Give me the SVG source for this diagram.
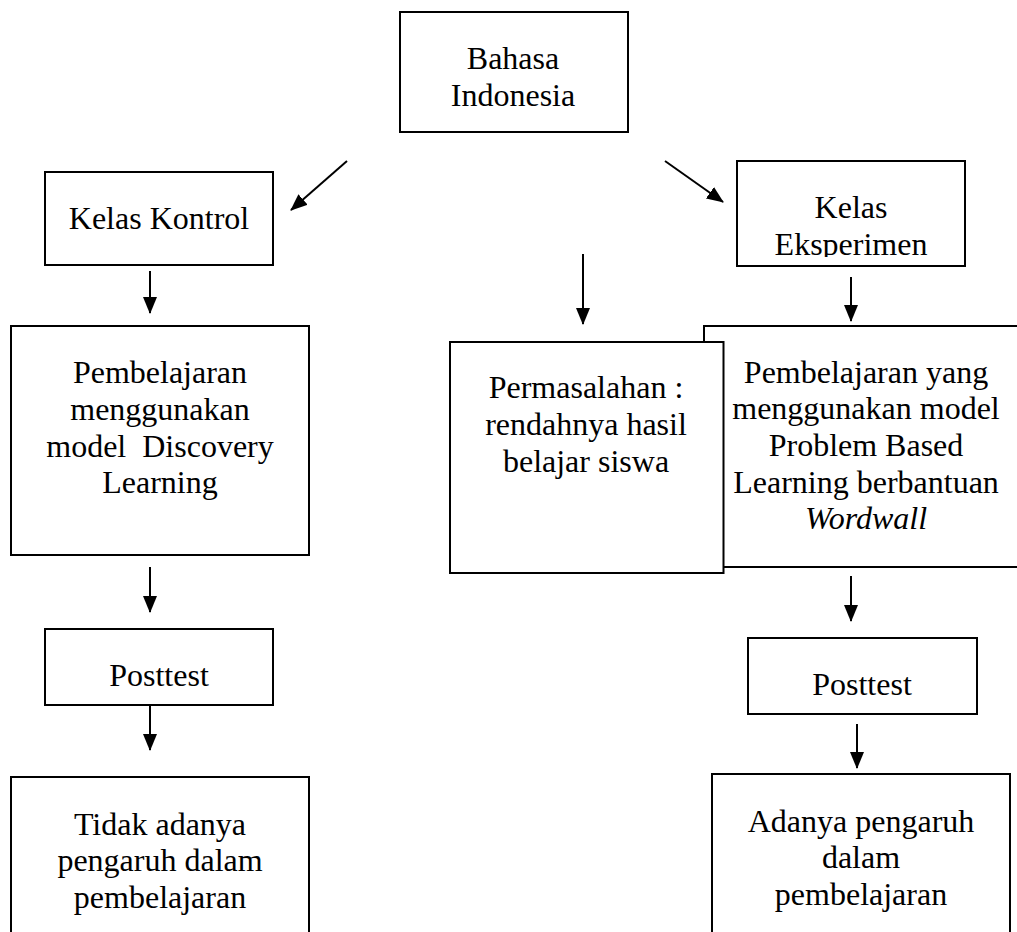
<svg xmlns="http://www.w3.org/2000/svg" width="1017" height="932" viewBox="0 0 1017 932">
<style>
.box{fill:#fff;stroke:#000;stroke-width:2}
.t{font-family:"Liberation Serif","Times New Roman",serif;font-size:32px;fill:#000;text-anchor:middle;white-space:pre}
.c{stroke:#000;stroke-width:2;fill:none;marker-end:url(#ah)}
</style>
<defs>
<marker id="ah" markerUnits="userSpaceOnUse" markerWidth="18" markerHeight="15" refX="16" refY="7" orient="auto">
<path d="M0,0 L17,7 L0,14 Z" fill="#000"/>
</marker>
<clipPath id="clipEks"><rect x="737" y="161" width="228" height="96"/></clipPath>
</defs>
<rect width="1017" height="932" fill="#fff"/>
<g id="bahasa">
<rect class="box" x="400" y="12" width="228" height="120"/>
<text class="t" x="513" y="69">Bahasa</text>
<text class="t" x="513" y="106">Indonesia</text>
</g>
<g id="kelas-kontrol">
<rect class="box" x="45" y="172" width="228" height="93"/>
<text class="t" x="159" y="229">Kelas Kontrol</text>
</g>
<g id="kelas-eksperimen">
<rect class="box" x="737" y="161" width="228" height="105"/>
<g clip-path="url(#clipEks)">
<text class="t" x="851" y="218">Kelas</text>
<text class="t" x="851" y="255">Eksperimen</text>
</g>
</g>
<g id="pembelajaran-discovery">
<rect class="box" x="11" y="326" width="298" height="229"/>
<text class="t" x="160" y="383">Pembelajaran</text>
<text class="t" x="160" y="420">menggunakan</text>
<text class="t" x="160" y="457" xml:space="preserve">model  Discovery</text>
<text class="t" x="160" y="493">Learning</text>
</g>
<g id="pembelajaran-pbl">
<rect class="box" x="704" y="326" width="330" height="241"/>
<text class="t" x="866" y="383">Pembelajaran yang</text>
<text class="t" x="866" y="419">menggunakan model</text>
<text class="t" x="866" y="456">Problem Based</text>
<text class="t" x="866" y="493">Learning berbantuan</text>
<text class="t" x="866" y="529" font-style="italic">Wordwall</text>
</g>
<g id="permasalahan">
<rect class="box" x="450" y="342" width="273.5" height="231"/>
<text class="t" x="586" y="398">Permasalahan :</text>
<text class="t" x="586" y="435">rendahnya hasil</text>
<text class="t" x="586" y="472">belajar siswa</text>
</g>
<g id="posttest-kontrol">
<rect class="box" x="45" y="629" width="228" height="76"/>
<text class="t" x="159" y="686">Posttest</text>
</g>
<g id="posttest-eksperimen">
<rect class="box" x="748" y="638" width="229" height="76"/>
<text class="t" x="862" y="695">Posttest</text>
</g>
<g id="tidak-pengaruh">
<rect class="box" x="11" y="777" width="298" height="170"/>
<text class="t" x="160" y="835">Tidak adanya</text>
<text class="t" x="160" y="871">pengaruh dalam</text>
<text class="t" x="160" y="908">pembelajaran</text>
</g>
<g id="ada-pengaruh">
<rect class="box" x="712" y="774" width="298" height="170"/>
<text class="t" x="861" y="832">Adanya pengaruh</text>
<text class="t" x="861" y="868">dalam</text>
<text class="t" x="861" y="905">pembelajaran</text>
</g>
<g id="connectors">
<line class="c" x1="347" y1="161" x2="291" y2="210"/>
<line class="c" x1="665" y1="161" x2="723" y2="202"/>
<line class="c" x1="150" y1="271" x2="150" y2="313"/>
<line class="c" x1="583" y1="254" x2="583" y2="324"/>
<line class="c" x1="851" y1="277" x2="851" y2="321"/>
<line class="c" x1="150" y1="567" x2="150" y2="612"/>
<line class="c" x1="851" y1="576" x2="851" y2="621"/>
<line class="c" x1="150" y1="706" x2="150" y2="750"/>
<line class="c" x1="857" y1="724" x2="857" y2="768"/>
</g>
</svg>
